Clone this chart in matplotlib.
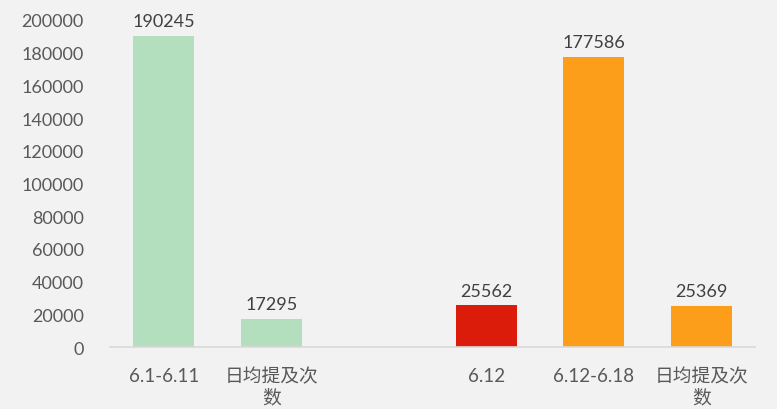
import matplotlib
matplotlib.use("Agg")
import matplotlib.pyplot as plt

categories = ["6.1-6.11", "日均提及次\n数", "", "6.12", "6.12-6.18", "日均提及次\n数"]
values = [190245, 17295, None, 25562, 177586, 25369]
colors = ["#b3dfbf", "#b3dfbf", "#ffffff", "#dc1c0a", "#fd9e1a", "#fd9e1a"]
yticks = [0, 20000, 40000, 60000, 80000, 100000, 120000, 140000, 160000, 180000, 200000]

plt.rcParams['font.family'] = ['Lato', 'Noto Sans CJK SC', 'DejaVu Sans']

fig = plt.figure(figsize=(7.77, 4.10), dpi=100, facecolor="#f2f2f2")
ax = fig.add_axes([0.1416, 0.151, 0.830, 0.798])
ax.set_facecolor("#f2f2f2")

xs = list(range(len(categories)))
for x, v, c in zip(xs, values, colors):
    if v is None:
        continue
    ax.bar(x, v, width=0.57, color=c, zorder=2)
    ax.text(x, v + 4000, f"{v}", ha="center", va="bottom", fontsize=13, color="#404040")

ax.set_xlim(-0.5, len(categories) - 0.5)
ax.set_ylim(0, 200000)
ax.set_yticks(yticks)
ax.set_yticklabels([str(t) for t in yticks], fontsize=13, color="#595959")
ax.set_xticks(xs)
ax.set_xticklabels(categories, fontsize=13.5, color="#595959", linespacing=1.3, va="top")
ax.tick_params(axis="both", length=0)
ax.tick_params(axis="x", pad=14)
ax.tick_params(axis="y", pad=19)
for s in ["top", "right", "left"]:
    ax.spines[s].set_visible(False)
ax.spines["bottom"].set_color("#d9d9d9")
ax.spines["bottom"].set_linewidth(1.2)

fig.savefig("out.png", dpi=100, facecolor=fig.get_facecolor())
